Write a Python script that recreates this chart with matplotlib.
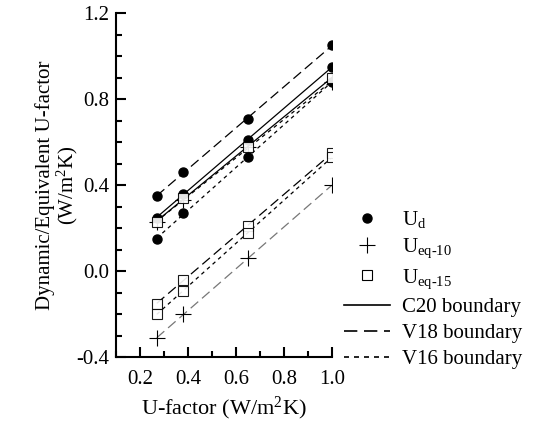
import numpy as np
import matplotlib
matplotlib.use("Agg")
import matplotlib.pyplot as plt
from matplotlib.lines import Line2D
from matplotlib.ticker import MultipleLocator, FormatStrFormatter

plt.rcParams['font.family'] = ['Liberation Serif', 'DejaVu Serif']
plt.rcParams['mathtext.fontset'] = 'custom'
plt.rcParams['mathtext.rm'] = 'Liberation Serif'
plt.rcParams['mathtext.it'] = 'Liberation Serif:italic'
plt.rcParams['axes.unicode_minus'] = False

# U-factor of the wall (x) and measured values
u_factor = [0.27, 0.38, 0.65, 1.0]

ud_c20 = [0.25, 0.36, 0.61, 0.95]
ud_v18 = [0.35, 0.46, 0.71, 1.05]
ud_v16 = [0.15, 0.27, 0.53, 0.88]

ueq10_c20 = [0.23, 0.33, 0.58, 0.88]
ueq15_c20 = [0.23, 0.34, 0.58, 0.90]

ueq10_v18 = [-0.31, -0.20, 0.06, 0.40]
ueq15_v18 = [-0.15, -0.04, 0.21, 0.55]
ueq15_v16 = [-0.20, -0.09, 0.18, 0.53]

solid = '-'
long_dash = (0, (8, 4))
short_dash = (0, (3, 3))


def fit_line(ax, x, y, ls, color='black'):
    k, b = np.polyfit(x, y, 1)
    xs = np.array([x[0], x[-1]])
    ax.plot(xs, k * xs + b, ls=ls, color=color, lw=0.9)


fig = plt.figure(figsize=(5.33, 4.23), dpi=100)
ax = fig.add_axes([0.2176, 0.155, 0.405, 0.814])

# boundary lines
fit_line(ax, u_factor, ud_c20, solid)
fit_line(ax, u_factor, ueq15_c20, solid)
fit_line(ax, u_factor, ud_v18, long_dash)
fit_line(ax, u_factor, ud_v16, short_dash)
fit_line(ax, u_factor, ueq10_c20, short_dash)
fit_line(ax, u_factor, ueq15_v18, long_dash)
fit_line(ax, u_factor, ueq15_v16, short_dash)
fit_line(ax, u_factor, ueq10_v18, long_dash, color='#777777')

# markers
for ys in (ud_c20, ud_v18, ud_v16):
    ax.plot(u_factor, ys, 'o', color='black', ms=6.5, ls='none')
for ys in (ueq10_c20, ueq10_v18):
    ax.plot(u_factor, ys, '+', color='black', ms=11, mew=0.8, ls='none')
for ys in (ueq15_c20, ueq15_v18, ueq15_v16):
    ax.plot(u_factor, ys, 's', mfc='white', mec='black', ms=7.5, mew=0.8,
            ls='none', alpha=0.9)

ax.set_xlim(0.1, 1.0)
ax.set_ylim(-0.4, 1.2)
ax.set_xticks([0.2, 0.4, 0.6, 0.8, 1.0])
ax.xaxis.set_minor_locator(MultipleLocator(0.1))
ax.yaxis.set_major_locator(MultipleLocator(0.4))
ax.yaxis.set_minor_locator(MultipleLocator(0.1))
ax.xaxis.set_major_formatter(FormatStrFormatter('%.1f'))
ax.yaxis.set_major_formatter(FormatStrFormatter('%.1f'))
ax.tick_params(which='both', direction='in', width=1.5, labelsize=15)
ax.tick_params(which='major', length=7)
ax.tick_params(which='minor', length=4)
ax.tick_params(axis='x', pad=9)
ax.tick_params(axis='y', pad=5)
for side in ('top', 'right'):
    ax.spines[side].set_visible(False)
for side in ('left', 'bottom'):
    ax.spines[side].set_linewidth(1.5)

ax.set_xlabel('U-factor (W/m$^2$K)', fontsize=16, labelpad=4)
ax.set_ylabel('Dynamic/Equivalent U-factor\n(W/m$^2$K)', fontsize=15,
              labelpad=-3, linespacing=1.0)

handles = [
    Line2D([], [], marker='o', color='black', ls='none', ms=6.5),
    Line2D([], [], marker='+', color='black', ls='none', ms=11, mew=0.8),
    Line2D([], [], marker='s', mfc='white', mec='black', ls='none', ms=7.5, mew=0.8),
    Line2D([], [], color='black', ls=solid, lw=1.2),
    Line2D([], [], color='black', ls=long_dash, lw=1.2),
    Line2D([], [], color='black', ls=short_dash, lw=1.2),
]
labels = ['U$_{\\rm d}$', 'U$_{\\rm eq\\text{-}10}$', 'U$_{\\rm eq\\text{-}15}$',
          'C20 boundary', 'V18 boundary', 'V16 boundary']
fig.legend(handles, labels, loc='upper left', bbox_to_anchor=(0.63, 0.525),
           frameon=False, fontsize=15, handlelength=2.2, labelspacing=0.32,
           handletextpad=0.6, borderaxespad=0)

fig.savefig('out.png', dpi=100)
